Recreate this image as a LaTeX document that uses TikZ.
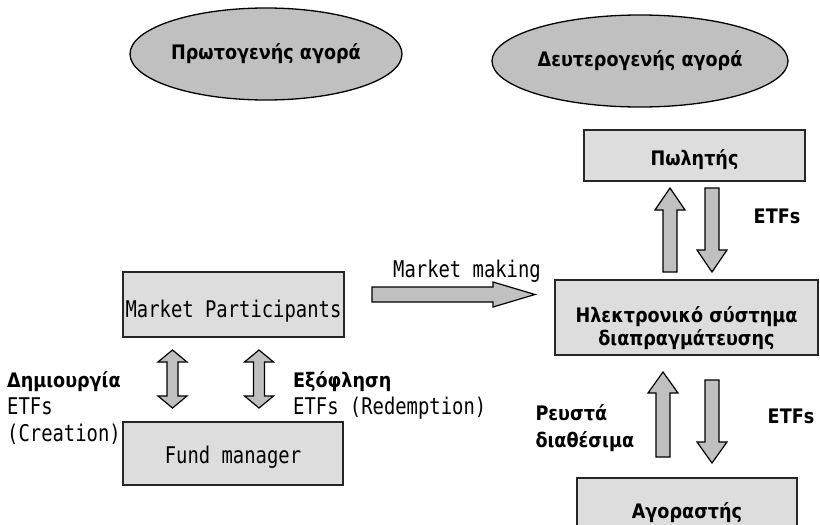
\documentclass[tikz,border=0pt]{standalone}
\usepackage{fontspec}
\setmainfont{DejaVu Sans}
\newfontfamily\grkfam{DejaVu Sans Bold}[FakeStretch=0.88]
\newfontfamily\latfam{DejaVu Sans Mono}[FakeStretch=0.82]
\usetikzlibrary{shapes.geometric}
\definecolor{boxgray}{RGB}{221,221,221}
\definecolor{arrgray}{RGB}{192,192,192}
\newcommand\grkfont{\fontsize{20}{27}\selectfont\grkfam}
\newcommand\latfont{\fontsize{23}{27}\selectfont\latfam}

\begin{document}
\begin{tikzpicture}[x=1pt, y=-1pt,
  grk/.style={font=\grkfont},
  lat/.style={font=\latfont},
  mkt/.style={ellipse, draw, line width=1.3pt, fill=arrgray, inner sep=0pt, grk},
  box/.style={draw, line width=1.5pt, draw=black!85, fill=boxgray, inner sep=0pt},
  blk/.style={draw, line width=1.2pt, fill=arrgray, line join=miter}]
  \useasboundingbox (0,0) rectangle (820,525);
  % markets
  \node[mkt, minimum width=272pt, minimum height=92pt] (prim) at (266,54) {Πρωτογενής αγορά};
  \node[mkt, minimum width=296pt, minimum height=92pt] (sec) at (640,61) {Δευτερογενής αγορά};
  % boxes
  \node[box, grk, minimum width=221pt, minimum height=51pt, text height=19pt, text depth=0pt]
    (seller) at (694.5,155.5) {Πωλητής};
  \node[box, font=\fontsize{20}{23.5}\selectfont\grkfam, minimum width=263pt, minimum height=75pt,
    align=center, text height=56pt, text depth=0pt] (ets) at (686.5,317.5) {Ηλεκτρονικό σύστημα\\διαπραγμάτευσης};
  \node[box, grk, minimum width=220pt, minimum height=70pt] (buyer) at (687,513) {Αγοραστής};
  \node[box, lat, minimum width=221pt, minimum height=65pt, text height=25pt, text depth=0pt]
    (mp) at (233.5,304.5) {Market Participants};
  \node[box, lat, minimum width=220pt, minimum height=63pt, text height=19pt, text depth=0pt]
    (fm) at (233,453.5) {Fund manager};
  % block arrows
  \draw[blk] (372,287) -- (493,287) -- (493,282) -- (535,294.5) -- (493,307) -- (493,302) -- (372,302) -- cycle;
  \draw[blk] (663,272) -- (663,210) -- (655,210) -- (670,188) -- (685,210) -- (677,210) -- (677,272) -- cycle;
  \draw[blk] (705,188) -- (705,250) -- (697,250) -- (712,272) -- (727,250) -- (719,250) -- (719,188) -- cycle;
  \draw[blk] (656,457) -- (656,393) -- (648,393) -- (663,372) -- (678,393) -- (670,393) -- (670,457) -- cycle;
  \draw[blk] (705,380) -- (705,442) -- (697,442) -- (712,463) -- (727,442) -- (719,442) -- (719,380) -- cycle;
  \draw[blk] (167,362) -- (158,362) -- (172.5,350) -- (187,362) -- (178,362) -- (178,396) -- (187,396)
    -- (172.5,408) -- (158,396) -- (167,396) -- cycle;
  \draw[blk] (253.5,362) -- (244.5,362) -- (259,350) -- (273.5,362) -- (264.5,362) -- (264.5,396) -- (273.5,396)
    -- (259,408) -- (244.5,396) -- (253.5,396) -- cycle;
  % labels
  \node[lat, anchor=base] (mmlbl) at (467,277) {Market making};
  \node[grk] (etfa) at (777,216) {ETFs};
  \node[grk, align=left, anchor=west] (cash) at (532,428) {Ρευστά\\διαθέσιμα};
  \node[grk] (etfb) at (791,416) {ETFs};
  \node[lat, anchor=north west, align=left, inner sep=0pt] (crlbl) at (7,371)
    {{\grkfont Δημιουργία}\\ETFs\\(Creation)};
  \node[lat, anchor=north west, align=left, inner sep=0pt] (rdlbl) at (293,371)
    {{\grkfont Εξόφληση}\\ETFs (Redemption)};
\end{tikzpicture}
\end{document}
